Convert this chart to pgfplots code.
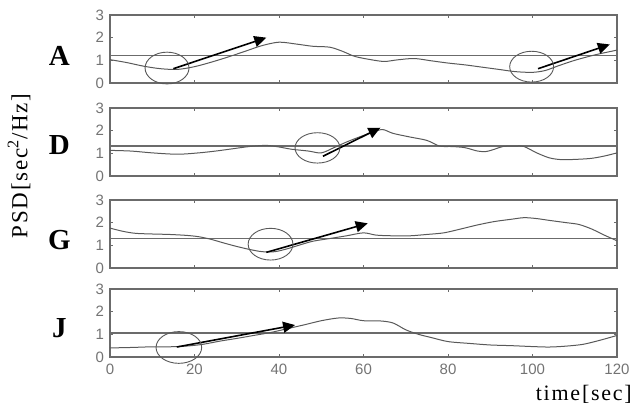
\documentclass[border=0pt]{standalone}
\usepackage{fontspec}
\setmainfont{Liberation Serif}
\newfontfamily\tickfont{Liberation Sans}
\newfontfamily\lblfont[LetterSpace=8]{Liberation Serif}
\usepackage{pgfplots}
\pgfplotsset{compat=1.18}
\usetikzlibrary{arrows.meta}
\definecolor{framegray}{gray}{0.42}
\definecolor{curvegray}{gray}{0.35}
\definecolor{tickgray}{gray}{0.45}
\tikzset{
  circ/.style={curvegray, line width=0.9pt},
  letter/.style={font=\bfseries\fontsize{29}{29}\selectfont},
}
\pgfplotsset{
  panel/.style={
    scale only axis, width=507pt, height=68pt,
    anchor=south west,
    xmin=0, xmax=120, ymin=0, ymax=3,
    xtick={0,20,...,120}, ytick={0,1,2,3},
    tick align=inside, major tick length=3pt,
    axis line style={framegray, line width=1.4pt},
    tick style={framegray, line width=0.8pt},
    /pgf/number format/assume math mode=true,
    tick label style={font=\tickfont\fontsize{15}{15}\selectfont, text=tickgray},
    yticklabel style={xshift=-2.5pt},
    xticklabel style={yshift=-3pt},
    clip=false,
  },
  curve/.style={curvegray, line width=1pt, smooth, tension=0.5},
  hline/.style={framegray, line width=1.2pt},
  arr/.style={black, line width=1.6pt, -{Triangle[length=12pt,width=11pt]}},
}
\begin{document}
\begin{tikzpicture}
\path[use as bounding box] (0,0) rectangle (632pt,406pt);
% ---------- A ----------
\begin{axis}[panel, at={(110pt,323pt)}, xticklabels={}]
\addplot[hline] coordinates {(0,1.21) (120,1.21)};
\addplot[curve] coordinates {(0,1.03) (4,0.9) (8,0.74) (12,0.63) (16,0.6) (20,0.72) (24,0.92) (28,1.15) (32,1.4) (36,1.65) (40,1.8) (44,1.72) (48,1.62) (52,1.58) (55,1.4) (58,1.17) (62,1.02) (65,0.95) (68,1.02) (72,1.08) (76,0.98) (80,0.88) (84,0.8) (88,0.7) (92,0.6) (96,0.5) (100,0.47) (103,0.55) (106,0.75) (110,1.0) (115,1.25) (120,1.45)};
\addplot[arr] coordinates {(15,0.63) (37,2.0)};
\addplot[arr] coordinates {(101.3,0.63) (118.3,1.7)};
\draw[circ] (axis cs:13.5,0.66) ellipse [x radius=5.2, y radius=0.7];
\draw[circ] (axis cs:99.8,0.72) ellipse [x radius=5.2, y radius=0.68];
\node[letter] at (rel axis cs:-0.1,0.40) {A};
\end{axis}
% ---------- D ----------
\begin{axis}[panel, at={(110pt,230pt)}, xticklabels={}]
\addplot[hline] coordinates {(0,1.32) (120,1.32)};
\addplot[curve] coordinates {(0,1.13) (5,1.1) (10,1.02) (16,0.96) (21,1.02) (25,1.1) (29,1.2) (33,1.3) (37,1.35) (40,1.28) (43,1.18) (47,1.1) (50,1.02) (53,1.25) (56,1.5) (59,1.72) (62,1.92) (64.5,2.05) (67,1.88) (71,1.72) (75,1.57) (78,1.32) (81,1.3) (84,1.25) (87,1.1) (89,1.08) (91,1.18) (93,1.3) (96,1.32) (98,1.3) (101,1.02) (104,0.8) (107,0.72) (111,0.74) (114,0.78) (117,0.88) (120,1.02)};
\addplot[arr] coordinates {(50.4,0.87) (64,2.13)};
\draw[circ] (axis cs:49.1,1.24) ellipse [x radius=5.3, y radius=0.67];
\node[letter] at (rel axis cs:-0.1,0.46) {D};
\end{axis}
% ---------- G ----------
\begin{axis}[panel, at={(110pt,138pt)}, xticklabels={}]
\addplot[hline] coordinates {(0,1.3) (120,1.3)};
\addplot[curve] coordinates {(0,1.76) (3,1.62) (6,1.53) (10,1.5) (14,1.48) (18,1.44) (21,1.38) (24,1.26) (27,1.1) (30,0.95) (33,0.82) (36,0.72) (39,0.72) (42,0.85) (45,1.02) (48,1.18) (52,1.3) (56,1.42) (60,1.55) (63,1.45) (67,1.42) (71,1.42) (75,1.48) (79,1.55) (83,1.72) (87,1.9) (91,2.05) (95,2.15) (98,2.22) (101,2.18) (104,2.1) (108,2.0) (111,1.92) (114,1.72) (117,1.45) (120,1.2)};
\addplot[arr] coordinates {(37,0.69) (61,1.97)};
\draw[circ] (axis cs:38,1.05) ellipse [x radius=5.3, y radius=0.7];
\node[letter] at (rel axis cs:-0.1,0.41) {G};
\end{axis}
% ---------- J ----------
\begin{axis}[panel, at={(110pt,49pt)}]
\addplot[hline] coordinates {(0,1.06) (120,1.06)};
\addplot[curve] coordinates {(0,0.4) (5,0.42) (10,0.45) (14,0.45) (18,0.48) (22,0.56) (26,0.7) (30,0.82) (34,0.95) (38,1.08) (42,1.25) (46,1.42) (50,1.6) (54,1.72) (57,1.7) (60,1.6) (64,1.59) (67,1.5) (70,1.2) (73,1.0) (76,0.86) (80,0.68) (85,0.6) (90,0.53) (95,0.5) (100,0.46) (104,0.44) (108,0.48) (112,0.56) (116,0.74) (120,0.95)};
\addplot[arr] coordinates {(15.8,0.44) (43.8,1.41)};
\draw[circ] (axis cs:16.3,0.42) ellipse [x radius=5.4, y radius=0.7];
\node[letter] at (rel axis cs:-0.1,0.43) {J};
\end{axis}
\node[rotate=90, font=\lblfont\fontsize{23}{23}\selectfont] at (19pt,240pt) {PSD[sec\textsuperscript{2}/Hz]};
\node[anchor=base east, inner sep=0pt, font=\lblfont\fontsize{22}{22}\selectfont] at (632pt,5pt) {time[sec]};
\end{tikzpicture}
\end{document}
